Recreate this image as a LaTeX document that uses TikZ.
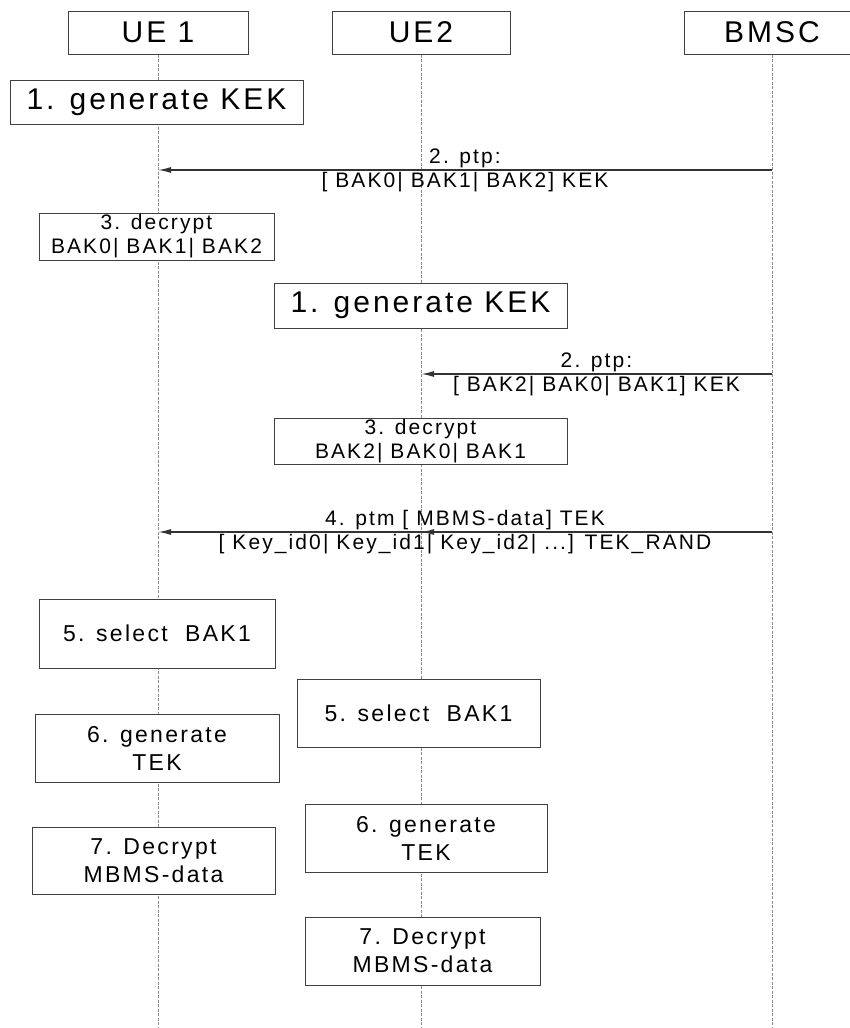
\documentclass[tikz,border=0pt]{standalone}
\usepackage{fontspec}
\setmainfont[LetterSpace=10]{Liberation Sans}
\usetikzlibrary{arrows.meta}
\tikzset{
  ent/.style={draw=black!75,fill=white,line width=1pt,minimum height=43pt,inner sep=0pt,font=\fontsize{30}{32}\selectfont},
  act/.style={draw=black!75,fill=white,line width=1pt,inner sep=0pt,align=center},
  big/.style={act,font=\fontsize{30}{32}\selectfont},
  small/.style={act,font=\fontsize{21}{24}\selectfont},
  mid/.style={act,font=\fontsize{23}{28}\selectfont},
  life/.style={draw=black!45,line width=0.7pt,dash pattern=on 3pt off 1.5pt},
  msg/.style={draw=black!80,line width=1.6pt,-{Latex[length=13pt,width=6pt]}},
  lbl/.style={font=\fontsize{21}{24}\selectfont,inner sep=1.5pt}
}
\begin{document}
\begin{tikzpicture}[x=1pt,y=-1pt]
\clip(0,0) rectangle (850,1028);
\node[ent,minimum width=180pt](ue1) at (158,32.5){UE 1};
\node[ent,minimum width=178pt](ue2) at (421,32.5){UE2};
\node[ent,minimum width=176pt](bmsc) at (772,32.5){BMSC};
\coordinate(e1) at (158,1028);
\coordinate(e2) at (421,1028);
\coordinate(e3) at (772,1028);
\draw[life](ue1)--(e1);
\draw[life](ue2)--(e2);
\draw[life](bmsc)--(e3);
% UE 1
\node[big,minimum width=293pt,minimum height=44pt](k1) at (156.5,102){1. generate KEK};
\coordinate(b2) at (772,170);
\coordinate(a2) at (158,170);
\draw[msg](b2)--(a2) node[midway,above,lbl]{2. ptp:} node[midway,below,lbl]{[ BAK0| BAK1| BAK2] KEK};
\node[small,minimum width=235pt,minimum height=47pt](d1) at (156.5,236.5){3. decrypt\\BAK0| BAK1| BAK2};
% UE2
\node[big,minimum width=293pt,minimum height=45pt](k2) at (420.5,305.5){1. generate KEK};
\coordinate(b3) at (772,374);
\coordinate(a3) at (421,374);
\draw[msg](b3)--(a3) node[midway,above,lbl]{2. ptp:} node[midway,below,lbl]{[ BAK2| BAK0| BAK1] KEK};
\node[small,minimum width=293pt,minimum height=46pt](d2) at (420.5,441){3. decrypt\\BAK2| BAK0| BAK1};
% ptm
\coordinate(b4) at (772,532);
\coordinate(a4) at (158,532);
\coordinate(c4) at (421,532);
\draw[msg](b4)--(c4);
\draw[msg](b4)--(a4) node[midway,above,lbl]{4. ptm [ MBMS-data] TEK} node[midway,below,lbl]{[ Key\_id0| Key\_id1| Key\_id2| ...] TEK\_RAND};
\node[mid,minimum width=236pt,minimum height=69pt](s1) at (157,633.5){5. select~~BAK1};
\node[mid,minimum width=243pt,minimum height=68pt](s2) at (418.5,713){5. select~~BAK1};
\node[mid,minimum width=244pt,minimum height=68pt](g1) at (157,748){6. generate\\TEK};
\node[mid,minimum width=242pt,minimum height=68pt](g2) at (426,838){6. generate\\TEK};
\node[mid,minimum width=243pt,minimum height=67pt](m1) at (153.5,860.5){7. Decrypt\\MBMS-data};
\node[mid,minimum width=235pt,minimum height=68pt](m2) at (422.5,951){7. Decrypt\\MBMS-data};
\end{tikzpicture}
\end{document}
